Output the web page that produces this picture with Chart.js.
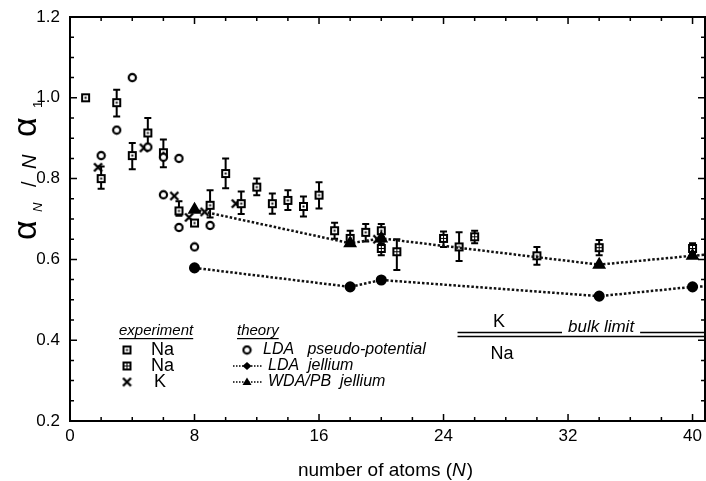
<!DOCTYPE html>
<html>
<head>
<meta charset="utf-8">
<script src="https://cdn.jsdelivr.net/npm/chart.js@4.4.1/dist/chart.umd.min.js"></script>
<style>
  html, body { margin: 0; padding: 0; background: #fff; }
  #c { display: block; }
</style>
</head>
<body>
<canvas id="c" width="706" height="481"></canvas>
<script>
// polarizability per atom, alpha_N / (N alpha_1), vs cluster size

// experiment, Na (open squares)
const naN   = [1, 2, 3, 4, 5, 6, 7, 8, 9, 10, 11, 12, 13, 14, 15, 16, 17, 18, 19, 20, 25, 30];
const naVal = [1.00, 0.80, 0.988, 0.857, 0.913, 0.864, 0.72, 0.69, 0.734, 0.8125, 0.738, 0.779, 0.738, 0.746, 0.731, 0.759, 0.671, 0.652, 0.667, 0.671, 0.631, 0.609];
const naLo  = [null, 0.775, 0.954, 0.823, 0.879, 0.828, 0.708, null, 0.704, 0.776, 0.7125, 0.759, 0.713, 0.722, 0.706, 0.726, 0.651, 0.636, 0.644, 0.656, 0.596, 0.587];
const naHi  = [null, 0.83, 1.02, 0.888, 0.95, 0.897, 0.744, null, 0.771, 0.85, 0.768, 0.80, 0.763, 0.771, 0.756, 0.791, 0.691, 0.671, 0.6875, 0.6875, 0.667, 0.631];

// experiment, Na (crossed squares)
const na2N   = [20, 21, 24, 26, 34, 40];
const na2Val = [0.627, 0.619, 0.652, 0.656, 0.629, 0.627];
const na2Lo  = [0.61, 0.574, 0.631, 0.64, 0.61, 0.615];
const na2Hi  = [0.64, 0.65, 0.669, 0.671, 0.648, 0.64];

// experiment, K
const kN   = [1.8, 4.75, 6.7, 7.65, 8.65, 10.65, 19.75];
const kVal = [0.828, 0.876, 0.757, 0.704, 0.7175, 0.738, 0.65];

// theory
const ppN   = [2, 3, 4, 5, 6, 6, 7, 7, 8, 9];
const ppVal = [0.857, 0.92, 1.05, 0.878, 0.853, 0.76, 0.85, 0.679, 0.631, 0.684];
const jelN   = [8, 18, 20, 34, 40, 41];
const jelVal = [0.579, 0.532, 0.549, 0.509, 0.532, 0.5335];
const wdaN   = [8, 18, 20, 34, 40, 41];
const wdaVal = [0.723, 0.64, 0.652, 0.587, 0.609, 0.612];

// bulk limits
const bulkN  = [24.9, 41];
const bulkK  = 0.419;
const bulkNa = 0.409;

const xTicks = [0, 8, 16, 24, 32, 40];
const yTicks = [0.2, 0.4, 0.6, 0.8, 1.0, 1.2];

const FONT = '"Liberation Sans", Arial, Helvetica, sans-serif';

function pts(xs, ys) { return xs.map((x, i) => ({ x, y: ys[i] })); }

// small bitmap symbols used as point styles
function symbol(kind) {
  const c = document.createElement('canvas');
  c.width = 11; c.height = 11;
  const g = c.getContext('2d');
  g.fillStyle = '#000'; g.strokeStyle = '#000';
  if (kind === 'open') {
    g.fillStyle = '#fff'; g.fillRect(1, 1, 9, 9);
    g.lineWidth = 2; g.strokeRect(2, 2, 7, 7);
    g.fillStyle = '#000'; g.fillRect(4.5, 4.5, 2, 2);
  } else if (kind === 'cross-sq') {
    g.fillRect(1, 1, 9, 9);
    g.fillStyle = '#fff';
    [[3, 3], [6, 3], [3, 6], [6, 6]].forEach(p => g.fillRect(p[0], p[1], 2, 2));
  } else if (kind === 'x') {
    g.lineWidth = 2.4;
    g.beginPath(); g.moveTo(1.5, 1.5); g.lineTo(9.5, 9.5); g.moveTo(9.5, 1.5); g.lineTo(1.5, 9.5); g.stroke();
  } else if (kind === 'ring') {
    g.fillStyle = '#fff';
    g.beginPath(); g.arc(5.5, 5.5, 3.6, 0, Math.PI * 2); g.fill();
    g.lineWidth = 2.2; g.stroke();
  }
  return c;
}
const symOpen = symbol('open'), symCross = symbol('cross-sq'), symX = symbol('x'), symRing = symbol('ring');

// error bars for the experimental sets
const errorBars = {
  id: 'errorBars',
  beforeDatasetsDraw(chart) {
    const { ctx, scales: { x, y } } = chart;
    ctx.save();
    ctx.strokeStyle = '#000';
    ctx.lineWidth = 2;
    const draw = (ns, lo, hi) => ns.forEach((n, i) => {
      if (lo[i] == null) return;
      const px = x.getPixelForValue(n), y0 = y.getPixelForValue(lo[i]), y1 = y.getPixelForValue(hi[i]);
      ctx.beginPath();
      ctx.moveTo(px, y0); ctx.lineTo(px, y1);
      ctx.moveTo(px - 3.5, y0); ctx.lineTo(px + 3.5, y0);
      ctx.moveTo(px - 3.5, y1); ctx.lineTo(px + 3.5, y1);
      ctx.stroke();
    });
    draw(naN, naLo, naHi);
    draw(na2N, na2Lo, na2Hi);
    ctx.restore();
  }
};

// frame, inward ticks, x tick labels, titles, legend and annotations
const decor = {
  id: 'decor',
  afterDraw(chart) {
    const { ctx, chartArea: a, scales: { x, y } } = chart;
    ctx.save();
    ctx.strokeStyle = '#000';
    ctx.lineWidth = 2;
    ctx.strokeRect(a.left, a.top, a.right - a.left, a.bottom - a.top);

    ctx.lineWidth = 1.5;
    ctx.beginPath();
    for (let v = 0; v <= 40; v += 2) {
      const px = x.getPixelForValue(v), len = v % 8 === 0 ? 7 : 4;
      ctx.moveTo(px, a.bottom); ctx.lineTo(px, a.bottom - len);
      ctx.moveTo(px, a.top); ctx.lineTo(px, a.top + len);
    }
    for (let k = 0; k <= 20; k++) {
      const v = 0.2 + k * 0.05, py = y.getPixelForValue(v), len = k % 4 === 0 ? 7 : 4;
      ctx.moveTo(a.left, py); ctx.lineTo(a.left + len, py);
      ctx.moveTo(a.right, py); ctx.lineTo(a.right - len, py);
    }
    ctx.stroke();

    ctx.fillStyle = '#000';
    ctx.textAlign = 'center';
    ctx.textBaseline = 'top';
    ctx.font = '17px ' + FONT;
    xTicks.forEach(v => ctx.fillText(String(v), x.getPixelForValue(v), a.bottom + 7));

    ctx.textBaseline = 'alphabetic';
    ctx.textAlign = 'left';

    // x title
    const t1 = 'number of atoms (', t2 = 'N', t3 = ')';
    ctx.font = '19px ' + FONT;
    const w1 = ctx.measureText(t1).width, w3 = ctx.measureText(t3).width;
    ctx.font = 'italic 19px ' + FONT;
    const w2 = ctx.measureText(t2).width;
    let sx = 385 - (w1 + w2 + w3) / 2;
    ctx.font = '19px ' + FONT; ctx.fillText(t1, sx, 476);
    ctx.font = 'italic 19px ' + FONT; ctx.fillText(t2, sx + w1, 476);
    ctx.font = '19px ' + FONT; ctx.fillText(t3, sx + w1 + w2 + 1, 476);

    // y title: alpha_N / N alpha_1
    ctx.save();
    ctx.translate(36, 240);
    ctx.rotate(-Math.PI / 2);
    ctx.font = '34px ' + FONT; ctx.fillText('α', 0, 0);
    ctx.font = 'italic 13px ' + FONT; ctx.fillText('N', 28, 6);
    ctx.font = '20px ' + FONT; ctx.fillText('/', 53, 0);
    ctx.font = 'italic 20px ' + FONT; ctx.fillText('N', 71, 0);
    ctx.font = '34px ' + FONT; ctx.fillText('α', 103, 0);
    ctx.font = '13px ' + FONT; ctx.fillText('1', 132, 6);
    ctx.restore();

    // legend
    const under = (txt, x0, y0) => {
      ctx.font = 'italic 15px ' + FONT;
      ctx.fillText(txt, x0, y0);
      const w = ctx.measureText(txt).width;
      ctx.fillRect(x0, y0 + 3, w, 1.2);
    };
    under('experiment', 119, 335);
    under('theory', 237, 335);

    ctx.drawImage(symOpen, 127 - 5.5, 350 - 5.5);
    ctx.drawImage(symCross, 127 - 5.5, 366 - 5.5);
    ctx.drawImage(symX, 127 - 5.5, 382 - 5.5);
    ctx.font = '18px ' + FONT;
    ctx.textBaseline = 'middle';
    ctx.fillText('Na', 151, 350);
    ctx.fillText('Na', 151, 366);
    ctx.fillText('K', 154, 382);

    ctx.drawImage(symRing, 247 - 5.5, 350 - 5.5);
    ctx.setLineDash([1.5, 1.5]);
    ctx.lineWidth = 1.5;
    ctx.beginPath();
    ctx.moveTo(233, 366); ctx.lineTo(262, 366);
    ctx.moveTo(233, 382); ctx.lineTo(262, 382);
    ctx.stroke();
    ctx.setLineDash([]);
    ctx.beginPath(); ctx.moveTo(247, 362); ctx.lineTo(251.5, 366); ctx.lineTo(247, 370); ctx.lineTo(242.5, 366); ctx.closePath(); ctx.fill();
    ctx.beginPath(); ctx.moveTo(247, 377.5); ctx.lineTo(251.5, 385); ctx.lineTo(242.5, 385); ctx.closePath(); ctx.fill();

    ctx.font = 'italic 16px ' + FONT;
    ctx.fillText('LDA   pseudo-potential', 263, 350);
    ctx.fillText('LDA  jellium', 268, 366);
    ctx.fillText('WDA/PB  jellium', 268, 382);

    // bulk limit labels; the text sits in a gap of the K line
    ctx.textAlign = 'center';
    ctx.font = '18px ' + FONT;
    ctx.fillText('K', 499, 322);
    ctx.fillText('Na', 502, 354);
    ctx.textAlign = 'left';
    ctx.textBaseline = 'alphabetic';
    ctx.font = 'italic 17px ' + FONT;
    const bw = ctx.measureText('bulk limit').width;
    const yk = y.getPixelForValue(bulkK);
    ctx.fillStyle = '#fff';
    ctx.fillRect(562, yk - 14, bw + 12, 15.5);
    ctx.fillStyle = '#000';
    ctx.fillText('bulk limit', 568, yk - 1);
    ctx.restore();
  }
};

const dotted = { borderColor: '#111', borderWidth: 2.5, borderDash: [2.5, 2], showLine: true, pointBackgroundColor: '#000', pointBorderColor: '#000' };

new Chart(document.getElementById('c'), {
  type: 'scatter',
  data: {
    datasets: [
      { label: 'K bulk', data: pts(bulkN, [bulkK, bulkK]), showLine: true, borderColor: '#000', borderWidth: 1.6, pointRadius: 0 },
      { label: 'Na bulk', data: pts(bulkN, [bulkNa, bulkNa]), showLine: true, borderColor: '#000', borderWidth: 1.6, pointRadius: 0 },
      { label: 'LDA jellium', data: pts(jelN, jelVal), ...dotted, pointStyle: 'circle', pointRadius: jelN.map(n => n > 40 ? 0 : 4.3) },
      { label: 'WDA/PB jellium', data: pts(wdaN, wdaVal), ...dotted, pointStyle: 'triangle', pointRadius: wdaN.map(n => n > 40 ? 0 : 5.5) },
      { label: 'LDA pseudo-potential', data: pts(ppN, ppVal), pointStyle: symRing },
      { label: 'Na', data: pts(naN, naVal), pointStyle: symOpen },
      { label: 'Na (2)', data: pts(na2N, na2Val), pointStyle: symCross },
      { label: 'K', data: pts(kN, kVal), pointStyle: symX }
    ]
  },
  options: {
    responsive: false,
    animation: false,
    layout: { autoPadding: false, padding: { top: 17, right: 1, left: 0, bottom: 0 } },
    plugins: { legend: { display: false }, tooltip: { enabled: false } },
    scales: {
      x: {
        type: 'linear', min: 0, max: 40.8,
        afterFit: s => { s.height = 60; },
        afterBuildTicks: s => { s.ticks = xTicks.map(v => ({ value: v })); },
        ticks: { display: false },
        grid: { display: false, drawTicks: false },
        border: { display: false }
      },
      y: {
        type: 'linear', min: 0.2, max: 1.2,
        afterFit: s => { s.width = 70; s.paddingTop = 0; s.paddingBottom = 0; },
        afterBuildTicks: s => { s.ticks = yTicks.map(v => ({ value: v })); },
        ticks: { color: '#000', font: { family: FONT, size: 17 }, padding: 10, callback: v => v.toFixed(1) },
        grid: { display: false, drawTicks: false },
        border: { display: false }
      }
    }
  },
  plugins: [errorBars, decor]
});
</script>
</body>
</html>
